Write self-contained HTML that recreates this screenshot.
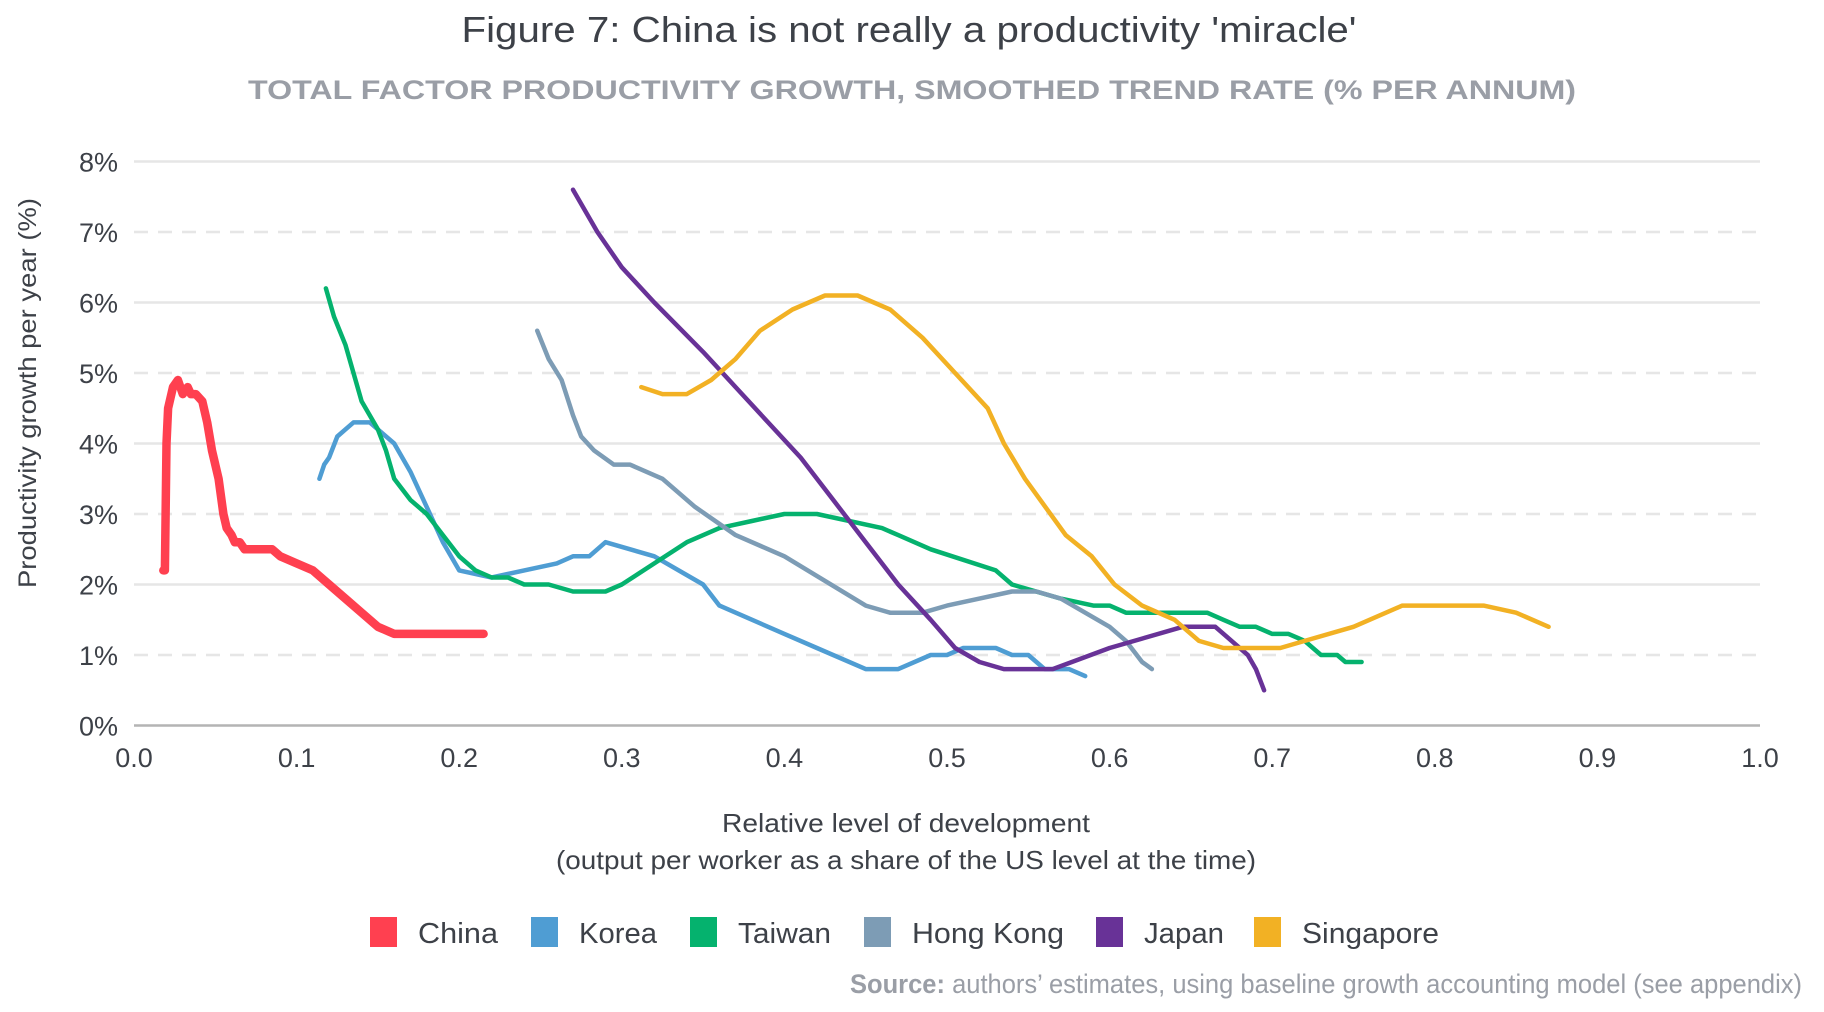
<!DOCTYPE html>
<html><head><meta charset="utf-8">
<style>
html,body{margin:0;padding:0;background:#fff;}
svg{display:block;}
text{font-family:"Liberation Sans",sans-serif;}
</style></head>
<body>
<svg id="chart" width="1824" height="1012" viewBox="0 0 1824 1012" xmlns="http://www.w3.org/2000/svg">
<text x="909" y="42" text-anchor="middle" font-size="36" fill="#3d4148" textLength="895" lengthAdjust="spacingAndGlyphs">Figure 7: China is not really a productivity 'miracle'</text>
<text x="912" y="99" text-anchor="middle" font-size="27" font-weight="bold" fill="#9a9ea6" textLength="1328" lengthAdjust="spacingAndGlyphs">TOTAL FACTOR PRODUCTIVITY GROWTH, SMOOTHED TREND RATE (% PER ANNUM)</text>
<g id="grid"></g>
<g id="yticks"></g>
<g id="xticks"></g>
<text transform="translate(36,393) rotate(-90)" text-anchor="middle" font-size="25" fill="#3d4148" textLength="390" lengthAdjust="spacingAndGlyphs">Productivity growth per year (%)</text>
<text x="906" y="832" text-anchor="middle" font-size="26" fill="#3d4148" textLength="368" lengthAdjust="spacingAndGlyphs">Relative level of development</text>
<text x="906" y="869" text-anchor="middle" font-size="26" fill="#3d4148" textLength="700" lengthAdjust="spacingAndGlyphs">(output per worker as a share of the US level at the time)</text>
<g id="series"></g>
<g id="legend"></g>
<text x="1802" y="993" text-anchor="end" font-size="27" fill="#9a9ea6" textLength="952" lengthAdjust="spacingAndGlyphs"><tspan font-weight="bold">Source:</tspan> authors’ estimates, using baseline growth accounting model (see appendix)</text>
</svg>
<script>
const yTicks = [0,1,2,3,4,5,6,7,8];
const xTicks = [0,0.1,0.2,0.3,0.4,0.5,0.6,0.7,0.8,0.9,1.0];
const seriesNames = ["China","Korea","Taiwan","Hong Kong","Japan","Singapore"];
const chinaX = [0.018,0.019,0.02,0.021,0.024,0.027,0.03,0.033,0.035,0.038,0.042,0.045,0.048,0.052,0.055,0.057,0.06,0.062,0.065,0.068,0.08,0.085,0.09,0.1,0.11,0.12,0.13,0.14,0.15,0.16,0.2,0.215];
const chinaY = [2.2,2.2,4.0,4.5,4.8,4.9,4.7,4.8,4.7,4.7,4.6,4.3,3.9,3.5,3.0,2.8,2.7,2.6,2.6,2.5,2.5,2.5,2.4,2.3,2.2,2.0,1.8,1.6,1.4,1.3,1.3,1.3];
const koreaX = [0.114,0.117,0.12,0.125,0.13,0.135,0.145,0.15,0.16,0.17,0.18,0.19,0.2,0.22,0.24,0.26,0.27,0.28,0.29,0.32,0.35,0.36,0.4,0.42,0.45,0.47,0.49,0.5,0.51,0.53,0.54,0.55,0.56,0.575,0.585];
const koreaY = [3.5,3.7,3.8,4.1,4.2,4.3,4.3,4.2,4.0,3.6,3.1,2.6,2.2,2.1,2.2,2.3,2.4,2.4,2.6,2.4,2.0,1.7,1.3,1.1,0.8,0.8,1.0,1.0,1.1,1.1,1.0,1.0,0.8,0.8,0.7];
const taiwanX = [0.118,0.123,0.13,0.135,0.14,0.15,0.155,0.16,0.17,0.18,0.19,0.2,0.21,0.22,0.23,0.24,0.255,0.27,0.29,0.3,0.32,0.34,0.36,0.38,0.4,0.42,0.46,0.47,0.49,0.53,0.54,0.57,0.59,0.6,0.61,0.66,0.67,0.68,0.69,0.7,0.71,0.72,0.73,0.74,0.745,0.755];
const taiwanY = [6.2,5.8,5.4,5.0,4.6,4.2,3.9,3.5,3.2,3.0,2.7,2.4,2.2,2.1,2.1,2.0,2.0,1.9,1.9,2.0,2.3,2.6,2.8,2.9,3.0,3.0,2.8,2.7,2.5,2.2,2.0,1.8,1.7,1.7,1.6,1.6,1.5,1.4,1.4,1.3,1.3,1.2,1.0,1.0,0.9,0.9];
const hkX = [0.248,0.255,0.263,0.27,0.275,0.283,0.295,0.305,0.325,0.345,0.37,0.4,0.45,0.465,0.485,0.5,0.52,0.54,0.555,0.57,0.585,0.6,0.61,0.62,0.626];
const hkY = [5.6,5.2,4.9,4.4,4.1,3.9,3.7,3.7,3.5,3.1,2.7,2.4,1.7,1.6,1.6,1.7,1.8,1.9,1.9,1.8,1.6,1.4,1.2,0.9,0.8];
const japanX = [0.27,0.285,0.3,0.32,0.35,0.37,0.39,0.41,0.43,0.45,0.47,0.49,0.505,0.52,0.535,0.565,0.6,0.645,0.665,0.675,0.685,0.69,0.695];
const japanY = [7.6,7.0,6.5,6.0,5.3,4.8,4.3,3.8,3.2,2.6,2.0,1.5,1.1,0.9,0.8,0.8,1.1,1.4,1.4,1.2,1.0,0.8,0.5];
const singX = [0.312,0.325,0.34,0.355,0.37,0.385,0.405,0.425,0.445,0.465,0.485,0.505,0.525,0.535,0.548,0.573,0.589,0.603,0.62,0.64,0.655,0.67,0.685,0.705,0.72,0.75,0.78,0.83,0.85,0.87];
const singY = [4.8,4.7,4.7,4.9,5.2,5.6,5.9,6.1,6.1,5.9,5.5,5.0,4.5,4.0,3.5,2.7,2.4,2.0,1.7,1.5,1.2,1.1,1.1,1.1,1.2,1.4,1.7,1.7,1.6,1.4];

const NS = "http://www.w3.org/2000/svg";
const L = 134, R = 1760, T = 161.5, B = 725.5;
function xs(v){ return L + v * (R - L); }
function ys(v){ return B - v / 8 * (B - T); }
function mk(tag, attrs, parent){ const e = document.createElementNS(NS, tag); for (const k in attrs) e.setAttribute(k, attrs[k]); parent.appendChild(e); return e; }

const grid = document.getElementById('grid');
const yt = document.getElementById('yticks');
yTicks.forEach(v => {
  const ln = mk('line', {x1:L, x2:R, y1:ys(v), y2:ys(v), stroke: v===0 ? '#b4b4b4' : '#e6e6e6', 'stroke-width':2.5}, grid);
  if (v % 2 === 1) ln.setAttribute('stroke-dasharray','14,10');
  
  
  const t = mk('text', {x:118, y:ys(v)+10, 'text-anchor':'end', 'font-size':27, fill:'#3d4148'}, yt);
  t.textContent = v + '%';
  
  
});
const xt = document.getElementById('xticks');
xTicks.forEach(v => {
  const t = mk('text', {x:xs(v), y:767, 'text-anchor':'middle', 'font-size':27, fill:'#3d4148'}, xt);
  t.textContent = v.toFixed(1);
  
  
});

const seriesXs = [chinaX, koreaX, taiwanX, hkX, japanX, singX];
const seriesYs = [chinaY, koreaY, taiwanY, hkY, japanY, singY];
const colors = ['#ff4050','#4f9dd3','#05b26e','#7d9cb5','#683297','#f2b124'];
const widths = [8.5,4.5,4.5,4.5,4.5,4.5];
const sg = document.getElementById('series');
seriesNames.forEach((n, i) => {
  const d = seriesXs[i].map((x, j) => (j ? 'L' : 'M') + xs(x).toFixed(1) + ',' + ys(seriesYs[i][j]).toFixed(1)).join(' ');
  const p = mk('path', {d:d, fill:'none', stroke:colors[i], 'stroke-width':widths[i], 'stroke-linejoin':'round', 'stroke-linecap':'round'}, sg);
  
  
});

const lg = document.getElementById('legend');
const swX = [370, 531, 690, 864, 1096, 1254];
const txW = [80, 78, 93, 152, 80, 137];
seriesNames.forEach((n, i) => {
  const r = mk('rect', {x:swX[i], y:917, width:27, height:30, fill:colors[i]}, lg);
  
  
  const t = mk('text', {x:swX[i]+48, y:943, 'font-size':29, fill:'#3d4148', textLength:txW[i], lengthAdjust:'spacingAndGlyphs'}, lg);
  t.textContent = n;
  
  
});
</script>
</body></html>
